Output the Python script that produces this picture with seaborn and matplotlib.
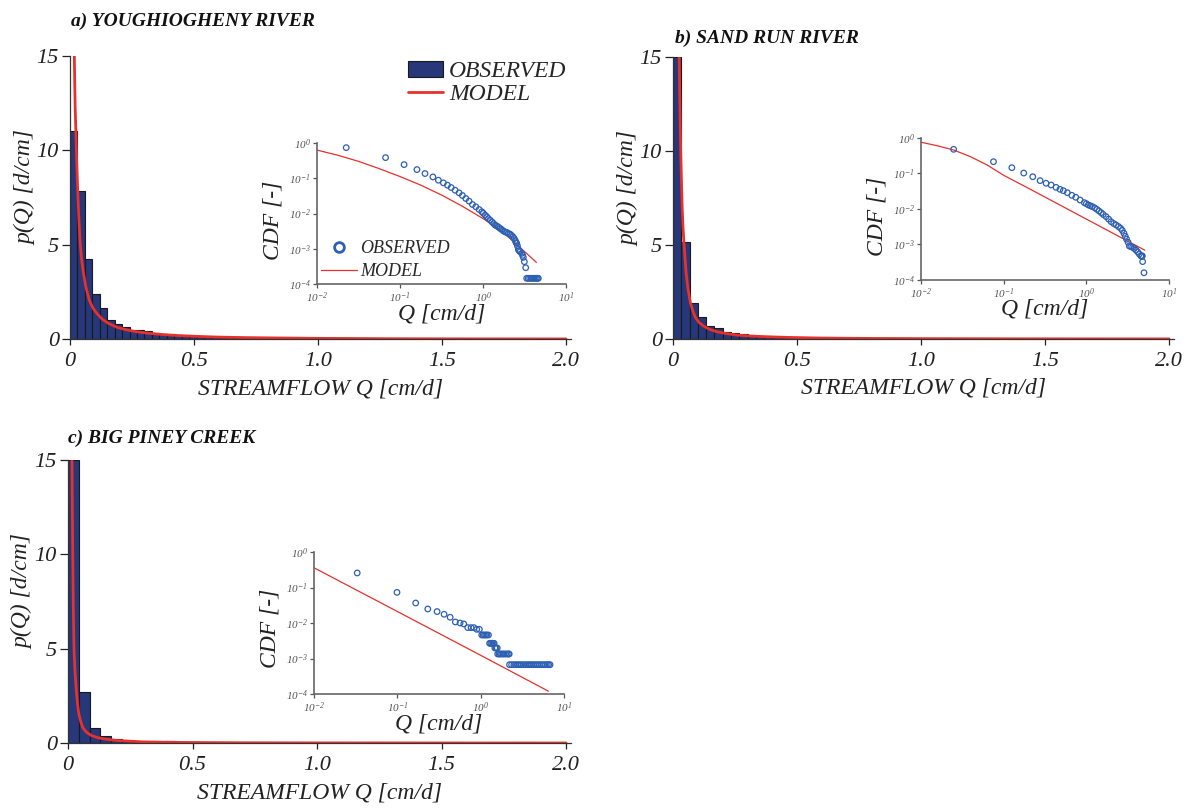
import matplotlib
matplotlib.use("Agg")
import matplotlib.pyplot as plt
from matplotlib.patches import Patch
from matplotlib.lines import Line2D
import numpy as np
import pandas as pd
import seaborn as sns

# ---------------- data ----------------
# histogram bar heights p(Q) [d/cm] and bin widths [cm/d]
bin_width_a = 0.030
hist_a = [11.0, 7.83, 4.23, 2.40, 1.62, 1.00, 0.78, 0.65, 0.48, 0.48, 0.40, 0.32,
          0.28, 0.23, 0.21, 0.18, 0.16, 0.13, 0.12, 0.11, 0.10, 0.09, 0.08, 0.07,
          0.06, 0.05, 0.05, 0.04, 0.04, 0.03, 0.03, 0.03, 0.02]
bin_width_b = 0.0334
hist_b = [15.0, 5.15, 1.93, 1.15, 0.69, 0.58, 0.39, 0.32, 0.25, 0.19, 0.16, 0.14,
          0.12, 0.10, 0.08, 0.07, 0.06, 0.05, 0.06, 0.04, 0.04, 0.03, 0.03, 0.02]
bin_width_c = 0.0434
hist_c = [15.0, 2.69, 0.80, 0.39, 0.19, 0.11, 0.07, 0.05, 0.05, 0.09, 0.03, 0.02,
          0.02, 0.01]

# model pdf curves (Q, p)
model_q_a = [0.0175, 0.019, 0.021, 0.024, 0.027, 0.031, 0.035, 0.040, 0.046, 0.054,
             0.064, 0.078, 0.092, 0.108, 0.13, 0.155, 0.19, 0.23, 0.27, 0.32, 0.38,
             0.44, 0.52, 0.60, 0.70, 0.80, 1.0, 1.3, 1.6, 2.0]
model_p_a = [15.0, 13.6, 12.2, 10.9, 9.4, 7.9, 6.6, 5.3, 4.3, 3.5,
             2.75, 2.05, 1.65, 1.36, 1.05, 0.83, 0.62, 0.48, 0.38, 0.30, 0.23,
             0.18, 0.135, 0.10, 0.075, 0.06, 0.035, 0.015, 0.007, 0.003]
model_q_b = [0.025, 0.027, 0.031, 0.034, 0.037, 0.040, 0.044, 0.048, 0.053, 0.060,
             0.070, 0.080, 0.090, 0.105, 0.123, 0.15, 0.176, 0.21, 0.257, 0.31,
             0.377, 0.46, 0.60, 0.80, 1.0, 1.4, 2.0]
model_p_b = [15.0, 13.2, 10.0, 8.4, 7.0, 6.0, 5.15, 4.4, 3.5, 2.7,
             1.93, 1.5, 1.15, 0.88, 0.69, 0.50, 0.39, 0.30, 0.21, 0.16,
             0.12, 0.085, 0.05, 0.03, 0.02, 0.01, 0.004]
model_q_c = [0.016, 0.0175, 0.019, 0.021, 0.024, 0.028, 0.034, 0.039, 0.044, 0.052,
             0.060, 0.075, 0.094, 0.12, 0.154, 0.20, 0.30, 0.45, 0.70, 1.0, 1.5, 2.0]
model_p_c = [15.0, 12.3, 10.0, 7.5, 5.0, 3.8, 2.69, 2.0, 1.5, 1.1,
             0.80, 0.56, 0.40, 0.28, 0.20, 0.13, 0.06, 0.03, 0.012, 0.006, 0.002, 0.001]

# exceedance CDF, observed (Q, CDF)
obs_q_a = [0.0225, 0.067, 0.112, 0.16, 0.20, 0.249, 0.29, 0.333, 0.373, 0.413, 0.461,
           0.515, 0.565, 0.621, 0.68, 0.746, 0.819, 0.898, 0.968, 1.01, 1.06, 1.11,
           1.16, 1.22, 1.28, 1.34, 1.40, 1.47, 1.54, 1.61, 1.68, 1.76, 1.85, 1.94,
           2.03, 2.12, 2.20, 2.28, 2.37, 2.45, 2.50, 2.55, 2.60, 2.67, 2.72, 2.80,
           2.93, 3.00, 3.06, 3.15, 3.27, 3.36, 3.50, 3.65, 3.80, 3.95, 4.10, 4.25,
           4.40, 4.52, 4.64]
obs_c_a = [0.738, 0.385, 0.244, 0.176, 0.136, 0.109, 0.088, 0.074, 0.0635, 0.0546, 0.0458,
           0.0385, 0.0324, 0.0266, 0.0224, 0.018, 0.0155, 0.013, 0.0112, 0.0101, 0.009, 0.0081,
           0.0072, 0.0065, 0.0058, 0.0052, 0.0047, 0.0044, 0.0041, 0.00377, 0.0035, 0.0032, 0.0030, 0.0029,
           0.0027, 0.0026, 0.0024, 0.0022, 0.00197, 0.0017, 0.0015, 0.00142, 0.0012, 0.00096, 0.00088, 0.00082,
           0.00074, 0.00065, 0.00057, 0.00043, 0.00029, 1.45e-4, 1.45e-4, 1.45e-4, 1.45e-4, 1.45e-4, 1.45e-4, 1.45e-4,
           1.45e-4, 1.45e-4, 1.45e-4]
obs_q_b = [0.0248, 0.0753, 0.1256, 0.175, 0.225, 0.276, 0.326, 0.375, 0.43, 0.48, 0.527,
           0.589, 0.667, 0.745, 0.84, 0.946, 1.0, 1.057, 1.12, 1.18, 1.26, 1.34, 1.42,
           1.51, 1.60, 1.73, 1.86, 1.99, 2.14, 2.29, 2.45, 2.60, 2.72, 2.85, 2.96,
           3.07, 3.20, 3.31, 3.45, 3.63, 3.80, 3.98, 4.17, 4.37, 4.57, 4.70, 4.75,
           4.80, 4.98]
obs_c_b = [0.48, 0.215, 0.146, 0.103, 0.081, 0.063, 0.053, 0.0474, 0.0407, 0.0359, 0.0328,
           0.0288, 0.0243, 0.0214, 0.0179, 0.0151, 0.0141, 0.013, 0.0123, 0.0117, 0.0108, 0.0098, 0.0088,
           0.0079, 0.0070, 0.0061, 0.0052, 0.0044, 0.0039, 0.00355, 0.0032, 0.00286, 0.0025, 0.00207, 0.0017,
           0.0014, 0.00115, 0.00091, 0.00087, 0.00083, 0.00077, 0.0007, 0.00062, 0.00054, 0.00048, 0.00046, 0.00048,
           0.00033, 0.00016]
obs_q_c = [0.033, 0.099, 0.166, 0.232, 0.30, 0.364, 0.43, 0.497, 0.566, 0.627, 0.70,
           0.767, 0.83, 0.897, 0.964,
           1.03, 1.07, 1.11, 1.15, 1.19, 1.24,
           1.28, 1.32, 1.36, 1.41, 1.45,
           1.48, 1.53, 1.58,
           1.60, 1.66, 1.72, 1.78, 1.85, 1.92, 2.00, 2.08, 2.16, 2.20,
           2.22, 2.35, 2.50, 2.65, 2.80, 2.95, 3.10, 3.30, 3.50, 3.70, 3.90, 4.10,
           4.35, 4.60, 4.85, 5.10, 5.40, 5.70, 6.00, 6.30, 6.55, 6.80]
obs_c_c = [0.257, 0.073, 0.0366, 0.0248, 0.021, 0.0176, 0.0145, 0.0107, 0.0100, 0.0094, 0.0074,
           0.0074, 0.0074, 0.00665, 0.00665,
           0.0046, 0.0046, 0.0046, 0.0046, 0.0046, 0.0046,
           0.00268, 0.00268, 0.00268, 0.00268, 0.00268,
           0.00198, 0.00198, 0.00198,
           0.00134, 0.00134, 0.00134, 0.00134, 0.00134, 0.00134, 0.00134, 0.00134, 0.00134, 0.00134,
           0.00067, 0.00067, 0.00067, 0.00067, 0.00067, 0.00067, 0.00067, 0.00067, 0.00067, 0.00067, 0.00067, 0.00067,
           0.00067, 0.00067, 0.00067, 0.00067, 0.00067, 0.00067, 0.00067, 0.00067, 0.00067, 0.00067]

# exceedance CDF, model (Q, CDF)
mod_q_a = [0.01, 0.018, 0.032, 0.056, 0.10, 0.18, 0.32, 0.56, 1.0, 1.6, 2.5, 4.4]
mod_c_a = [0.63, 0.447, 0.299, 0.188, 0.112, 0.063, 0.033, 0.0162, 0.0072, 0.00347, 0.00138, 0.00041]
mod_q_b = [0.01, 0.016, 0.025, 0.04, 0.063, 0.10, 0.21, 1.0, 5.1]
mod_c_b = [0.76, 0.60, 0.457, 0.295, 0.174, 0.089, 0.036, 0.0052, 0.00069]
mod_q_c = [0.01, 0.1, 1.0, 6.5]
mod_c_c = [0.36, 0.0211, 0.00123, 0.00012]

titles = ["a) YOUGHIOGHENY RIVER", "b) SAND RUN RIVER", "c) BIG PINEY CREEK"]
main_xticks = [0, 0.5, 1.0, 1.5, 2.0]
main_xticklabels = ["0", "0.5", "1.0", "1.5", "2.0"]
main_yticks = [0, 5, 10, 15]
main_yticklabels = ["0", "5", "10", "15"]
cdf_xticks = [1e-2, 1e-1, 1e0, 1e1]
cdf_xticklabels = [r"$10^{-2}$", r"$10^{-1}$", r"$10^{0}$", r"$10^{1}$"]
cdf_yticks = [1e-4, 1e-3, 1e-2, 1e-1, 1e0]
cdf_yticklabels = [r"$10^{-4}$", r"$10^{-3}$", r"$10^{-2}$", r"$10^{-1}$", r"$10^{0}$"]

# ---------------- style ----------------
sns.set_theme(style="ticks")
plt.rcParams["font.family"] = ["Liberation Serif", "DejaVu Serif"]
plt.rcParams["font.style"] = "italic"
plt.rcParams["mathtext.fontset"] = "custom"
plt.rcParams["mathtext.rm"] = "Liberation Serif:italic"
plt.rcParams["mathtext.it"] = "Liberation Serif:italic"
plt.rcParams["mathtext.default"] = "it"

NAVY = "#26377a"
EDGE = "#1a1a1a"
RED = "#e8302c"
BLUE = "#2d5fb3"
SPINE = "#333333"

W, H = 1196, 810
fig = plt.figure(figsize=(W / 100, H / 100), dpi=100)


def px_axes(x0, y_top, x1, y_bot):
    return fig.add_axes([x0 / W, 1 - y_bot / H, (x1 - x0) / W, (y_bot - y_top) / H])


def main_panel(ax, heights, width, mq, mp):
    edges = (np.arange(len(heights) + 1) * width).tolist()
    bars = pd.DataFrame({"Q": [e + width / 2 for e in edges[:-1]], "p": heights})
    sns.histplot(data=bars, x="Q", weights="p", bins=edges, stat="count",
                 color=NAVY, edgecolor=EDGE, linewidth=0.8, alpha=1, ax=ax)
    curve = pd.DataFrame({"Q": mq, "p": mp})
    sns.lineplot(data=curve, x="Q", y="p", estimator=None, sort=False,
                 color=RED, lw=2.0, ax=ax)
    ax.set_xlim(0, 2.02)
    ax.set_ylim(0, 15)
    ax.set_xticks(main_xticks)
    ax.set_xticklabels(main_xticklabels)
    ax.set_yticks(main_yticks)
    ax.set_yticklabels(main_yticklabels)
    ax.tick_params(axis="x", length=4, width=0.9, pad=5, labelsize=16, colors="#222222")
    ax.tick_params(axis="y", length=6, width=0.9, pad=2, labelsize=16, colors="#222222")
    sns.despine(ax=ax)
    for s in ("left", "bottom"):
        ax.spines[s].set_color(SPINE)
        ax.spines[s].set_linewidth(0.9)
    ax.set_xlabel("STREAMFLOW Q [cm/d]", fontsize=17, color="#222222")
    ax.set_ylabel("p(Q) [d/cm]", fontsize=17, color="#222222")
    ax.xaxis.set_label_coords(0.5, -0.138)
    ax.yaxis.set_label_coords(-0.068, 0.535)
    ax.patch.set_alpha(0)


def inset_panel(ax, oq, oc, mq, mc, ylab_y, xlab_y):
    ax.set_xscale("log")
    ax.set_yscale("log")
    curve = pd.DataFrame({"Q": mq, "C": mc})
    sns.lineplot(data=curve, x="Q", y="C", estimator=None, sort=False,
                 color=RED, lw=0.9, ax=ax)
    pts = pd.DataFrame({"Q": oq, "C": oc})
    sns.scatterplot(data=pts, x="Q", y="C", marker="o", s=16, facecolors="none",
                    edgecolor=BLUE, linewidth=0.9, ax=ax, zorder=3)
    ax.set_xlim(1e-2, 1e1)
    ax.set_ylim(1e-4, 1e0)
    ax.set_xticks(cdf_xticks)
    ax.set_xticklabels(cdf_xticklabels)
    ax.set_yticks(cdf_yticks)
    ax.set_yticklabels(cdf_yticklabels)
    ax.minorticks_off()
    ax.tick_params(length=3, width=0.9, pad=1.5, labelsize=8, colors="#555555")
    sns.despine(ax=ax)
    for s in ("left", "bottom"):
        ax.spines[s].set_color("#666666")
        ax.spines[s].set_linewidth(1.2)
    ax.set_xlabel("Q [cm/d]", fontsize=17, color="#222222")
    ax.set_ylabel("CDF [-]", fontsize=17, color="#222222")
    ax.xaxis.set_label_coords(0.5, xlab_y)
    ax.yaxis.set_label_coords(-0.135, ylab_y)
    ax.patch.set_alpha(0)


# panel a
ax_a = px_axes(70, 56, 571, 339)
main_panel(ax_a, hist_a, bin_width_a, model_q_a, model_p_a)
ax_a.legend(handles=[Patch(facecolor=NAVY, edgecolor=EDGE, linewidth=0.8),
                     Line2D([], [], color=RED, lw=2.0)],
            labels=["OBSERVED", "MODEL"], loc="upper right",
            bbox_to_anchor=(1.0, 1.0), frameon=False, fontsize=17,
            handlelength=1.5, handletextpad=0.25, labelspacing=0.05,
            borderpad=0.1, borderaxespad=0.1)

ins_a = px_axes(317, 143, 566, 284)
inset_panel(ins_a, obs_q_a, obs_c_a, mod_q_a, mod_c_a, 0.45, -0.135)
ins_a.legend(handles=[Line2D([], [], ls="none", marker="o", ms=7, mew=2.0,
                             mfc="none", mec=BLUE),
                      Line2D([], [], color=RED, lw=0.9)],
             labels=["OBSERVED", "MODEL"], loc="lower left",
             bbox_to_anchor=(0.0, 0.0), frameon=False, fontsize=13,
             handlelength=2.0, handletextpad=0.2, labelspacing=0.35,
             borderpad=0.1, borderaxespad=0.1)

# panel b
ax_b = px_axes(673, 57, 1174, 339)
main_panel(ax_b, hist_b, bin_width_b, model_q_b, model_p_b)
ins_b = px_axes(921, 138, 1169, 280)
inset_panel(ins_b, obs_q_b, obs_c_b, mod_q_b, mod_c_b, 0.45, -0.13)

# panel c
ax_c = px_axes(68, 460, 571, 743)
main_panel(ax_c, hist_c, bin_width_c, model_q_c, model_p_c)
ins_c = px_axes(314, 552, 564, 694)
inset_panel(ins_c, obs_q_c, obs_c_c, mod_q_c, mod_c_c, 0.465, -0.135)

# panel titles
for (tx, ty), t in zip([(71, 21), (675, 38), (68, 438)], titles):
    fig.text(tx / W, 1 - ty / H, t, fontsize=14, fontweight="bold",
             style="italic", va="center", ha="left", color="#111111")

fig.savefig("out.png", dpi=100, facecolor="white")
